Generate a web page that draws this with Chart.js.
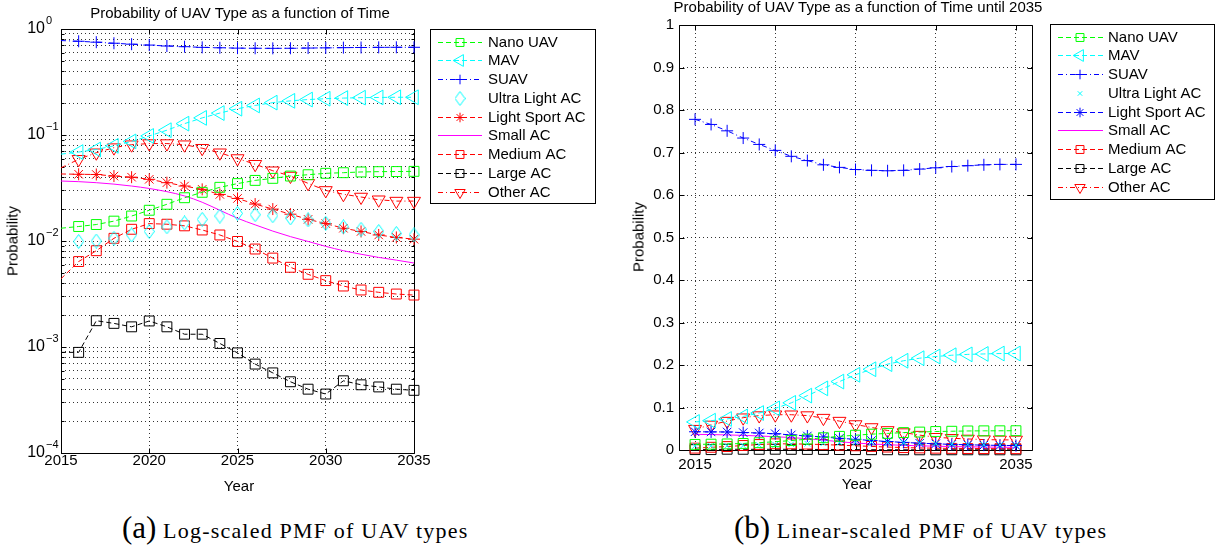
<!DOCTYPE html>
<html>
<head>
<meta charset="utf-8">
<title>Probability of UAV Type</title>
<script src="https://cdn.jsdelivr.net/npm/chart.js@4.4.1/dist/chart.umd.min.js"></script>
<style>
  html, body { margin: 0; padding: 0; background: #fff; }
  body { position: relative; width: 1215px; height: 548px; overflow: hidden;
         font-family: "Liberation Sans", Arial, Helvetica, sans-serif; color: #000; }
  canvas { position: absolute; top: 0; }
  .txt { position: absolute; font-size: 15px; line-height: 15px; white-space: nowrap;
         transform: translate(-50%, -50%); }
  .ylab { transform: translate(-50%, -50%) rotate(-90deg); }
  .cap { position: absolute; font-family: "Liberation Serif", "Times New Roman", serif;
         font-size: 22px; letter-spacing: 1.2px; line-height: 30px; white-space: nowrap; }
  .cap span { font-size: 31px; letter-spacing: 0; }
</style>
</head>
<body>
<canvas id="logChart" width="600" height="500" style="left:0"></canvas>
<canvas id="linChart" width="615" height="500" style="left:600px"></canvas>

<div class="txt" style="left:240px; top:12px">Probability of UAV Type as a function of Time</div>
<div class="txt ylab" style="left:12px; top:241px">Probability</div>
<div class="txt" style="left:239px; top:485px">Year</div>

<div class="txt" style="left:858px; top:6px">Probability of UAV Type as a function of Time until 2035</div>
<div class="txt ylab" style="left:638px; top:237px">Probability</div>
<div class="txt" style="left:857px; top:483px">Year</div>

<div class="cap" style="left:122px; top:513px"><span>(a)</span> Log-scaled PMF of UAV types</div>
<div class="cap" style="left:734px; top:513px"><span>(b)</span> Linear-scaled PMF of UAV types</div>

<script>
// values, one per year
var years = [2015, 2016, 2017, 2018, 2019, 2020, 2021, 2022, 2023, 2024, 2025,
             2026, 2027, 2028, 2029, 2030, 2031, 2032, 2033, 2034, 2035];

var nanoUAV = [0.0132, 0.0137, 0.0143, 0.0154, 0.0172, 0.0195, 0.0222, 0.0256, 0.0288, 0.0321, 0.0348,
               0.0373, 0.0390, 0.0410, 0.0422, 0.0435, 0.0441, 0.0448, 0.0451, 0.0452, 0.0454];
var mav = [0.066, 0.069, 0.073, 0.079, 0.087, 0.098, 0.111, 0.128, 0.145, 0.161, 0.177,
           0.190, 0.202, 0.210, 0.216, 0.220, 0.223, 0.225, 0.226, 0.227, 0.227];
var suav = [0.778, 0.766, 0.751, 0.734, 0.719, 0.705, 0.691, 0.681, 0.671, 0.665, 0.660,
            0.658, 0.657, 0.658, 0.661, 0.664, 0.667, 0.669, 0.671, 0.672, 0.672];
var ultraLightAC = [0.0098, 0.0099, 0.0100, 0.0106, 0.0114, 0.0123, 0.0136, 0.0148, 0.0160, 0.0172, 0.0182,
                    0.0177, 0.0173, 0.0165, 0.0158, 0.0147, 0.0136, 0.0129, 0.0123, 0.0118, 0.0114];
var lightSportAC = [0.0429, 0.0426, 0.0424, 0.0410, 0.0400, 0.0382, 0.0355, 0.0330, 0.0307, 0.0275, 0.0252,
                    0.0223, 0.0200, 0.0179, 0.0160, 0.0146, 0.0132, 0.0123, 0.0114, 0.0108, 0.0104];
var smallAC = [0.0368, 0.0363, 0.0355, 0.0344, 0.0330, 0.0313, 0.0292, 0.0266, 0.0232, 0.0195, 0.0164,
               0.0142, 0.0124, 0.0110, 0.0099, 0.0089, 0.0081, 0.0075, 0.0070, 0.0066, 0.0062];
var mediumAC = [0.0044, 0.0064, 0.0081, 0.0106, 0.0129, 0.0146, 0.0144, 0.0139, 0.0127, 0.0114, 0.0099,
                0.0084, 0.0069, 0.00565, 0.00485, 0.00423, 0.00376, 0.00345, 0.00328, 0.00316, 0.00309];
var largeAC = [0.00089, 0.00089, 0.00177, 0.00167, 0.00155, 0.00176, 0.00155, 0.00132, 0.00132, 0.00108, 0.00088,
               0.00069, 0.00057, 0.00047, 0.00040, 0.00036, 0.00048, 0.00044, 0.00042, 0.00040, 0.00039];
var otherAC = [0.049, 0.059, 0.068, 0.076, 0.081, 0.083, 0.083, 0.081, 0.075, 0.068, 0.060,
               0.053, 0.046, 0.041, 0.035, 0.030, 0.0276, 0.026, 0.0245, 0.0238, 0.0238];

var seriesNames = ["Nano UAV", "MAV", "SUAV", "Ultra Light AC", "Light Sport AC",
                   "Small AC", "Medium AC", "Large AC", "Other AC"];
var seriesValues = [nanoUAV, mav, suav, ultraLightAC, lightSportAC, smallAC, mediumAC, largeAC, otherAC];

var yearTicks = [2015, 2020, 2025, 2030, 2035];
var logTicks = [1e-4, 1e-3, 1e-2, 1e-1, 1];
var logTickBase = "10";
var logTickExponents = ["\u22124", "\u22123", "\u22122", "\u22121", "0"];
var linTicks = [0, 0.1, 0.2, 0.3, 0.4, 0.5, 0.6, 0.7, 0.8, 0.9, 1];
var linTickLabels = ["0", "0.1", "0.2", "0.3", "0.4", "0.5", "0.6", "0.7", "0.8", "0.9", "1"];

Chart.defaults.font.family = '"Liberation Sans", Arial, Helvetica, sans-serif';
Chart.defaults.font.size = 15;
Chart.defaults.color = "#000";

var gridColor = "rgba(0,0,0,0.8)";
var dashed = [5, 3];
var dashDot = [5, 3, 1, 3];

// matlab style diamond (taller than wide)
function makeDiamond(w, h, color) {
    var c = document.createElement("canvas");
    c.width = w;
    c.height = h;
    var g = c.getContext("2d");
    g.strokeStyle = color;
    g.lineWidth = 1;
    g.beginPath();
    g.moveTo(w / 2, 0.5);
    g.lineTo(w - 0.5, h / 2);
    g.lineTo(w / 2, h - 0.5);
    g.lineTo(0.5, h / 2);
    g.closePath();
    g.stroke();
    return c;
}

function seriesStyles(isLog) {
    return [
        { color: "#00ff00", dash: dashed, marker: "rect", r: 7 },
        { color: "#00ffff", dash: dashed, marker: "triangle", rot: -90, r: 8.5 },
        { color: "#0000ff", dash: dashDot, marker: "cross", r: 6 },
        { color: "#00ffff", dash: null, marker: isLog ? makeDiamond(11, 15, "#00ffff") : "crossRot", r: isLog ? 7 : 4 },
        { color: isLog ? "#ff0000" : "#0000ff", dash: dashed, marker: "star", r: 6 },
        { color: "#ff00ff", dash: [], marker: null, smooth: true },
        { color: "#ff0000", dash: dashed, marker: "rect", r: 7 },
        { color: "#000000", dash: dashed, marker: "rect", r: 7 },
        { color: "#ff0000", dash: dashDot, marker: "triangle", rot: 180, r: 7.5 }
    ];
}

function toPoints(values) {
    return years.map(function (yr, i) {
        return { x: yr, y: values[i] };
    });
}

function buildDatasets(styles, hideFirstMarker) {
    return seriesNames.map(function (name, k) {
        var st = styles[k];
        var radius = st.marker ? st.r : 0;
        return {
            label: name,
            data: toPoints(seriesValues[k]),
            borderColor: st.color,
            backgroundColor: "rgba(0,0,0,0)",
            borderWidth: 1,
            borderDash: st.dash || [],
            showLine: st.dash !== null,
            pointStyle: st.marker || "circle",
            pointRotation: st.rot || 0,
            pointRadius: hideFirstMarker
                ? years.map(function (yr, i) { return i === 0 ? 0 : radius; })
                : radius,
            pointBorderColor: st.color,
            pointBackgroundColor: "rgba(0,0,0,0)",
            pointBorderWidth: 1,
            tension: 0,
            cubicInterpolationMode: st.smooth ? "monotone" : "default",
            fill: false,
            clip: false
        };
    });
}

function decadeIndex(v) {
    for (var i = 0; i < logTicks.length; i++) {
        if (Math.abs(v / logTicks[i] - 1) < 1e-6) return i;
    }
    return -1;
}

// box round the plot plus matlab-like inward tick marks
var framePlugin = {
    id: "frame",
    beforeDatasetsDraw: function (chart) {
        var ctx = chart.ctx;
        var a = chart.chartArea;
        var xs = chart.scales.x;
        var ys = chart.scales.y;
        var L = Math.round(a.left) + 0.5, R = Math.round(a.right) + 0.5;
        var T = Math.round(a.top) + 0.5, B = Math.round(a.bottom) + 0.5;
        ctx.save();
        ctx.strokeStyle = "#000";
        ctx.lineWidth = 1;
        ctx.setLineDash([]);
        ctx.beginPath();
        ctx.rect(L, T, R - L, B - T);
        ys.ticks.forEach(function (t) {
            var p = Math.round(ys.getPixelForValue(t.value)) + 0.5;
            var len = t.label ? 5 : 3;
            ctx.moveTo(L, p); ctx.lineTo(L + len, p);
            ctx.moveTo(R, p); ctx.lineTo(R - len, p);
        });
        xs.ticks.forEach(function (t) {
            var p = Math.round(xs.getPixelForValue(t.value)) + 0.5;
            ctx.moveTo(p, B); ctx.lineTo(p, B - 5);
            ctx.moveTo(p, T); ctx.lineTo(p, T + 5);
        });
        ctx.stroke();
        ctx.restore();
    }
};

// exponents for the 10^n labels of the log axis
var exponentPlugin = {
    id: "exponents",
    afterDraw: function (chart) {
        var ctx = chart.ctx;
        var ys = chart.scales.y;
        ctx.save();
        ctx.font = '11px "Liberation Sans", Arial, sans-serif';
        ctx.fillStyle = "#000";
        ctx.textAlign = "left";
        ctx.textBaseline = "middle";
        ys.ticks.forEach(function (t) {
            var i = decadeIndex(t.value);
            if (i < 0) return;
            var p = ys.getPixelForValue(t.value);
            ctx.fillText(logTickExponents[i], ys.right - 15, p - 8);
        });
        ctx.restore();
    }
};

function legendPlugin(lg, styles) {
    return {
        id: "uavLegend",
        afterDraw: function (chart) {
            var ctx = chart.ctx;
            ctx.save();
            ctx.fillStyle = "#fff";
            ctx.fillRect(lg.x1, lg.y1, lg.x2 - lg.x1, lg.y2 - lg.y1);
            ctx.strokeStyle = "#000";
            ctx.lineWidth = 1;
            ctx.setLineDash([]);
            ctx.strokeRect(lg.x1 + 0.5, lg.y1 + 0.5, lg.x2 - lg.x1, lg.y2 - lg.y1);
            ctx.font = '15px "Liberation Sans", Arial, sans-serif';
            ctx.textBaseline = "middle";
            ctx.textAlign = "left";
            seriesNames.forEach(function (name, k) {
                var st = styles[k];
                var y = Math.round(lg.rowTop + k * lg.rowStep) + 0.5;
                ctx.strokeStyle = st.color;
                ctx.fillStyle = "rgba(0,0,0,0)";
                ctx.lineWidth = 1;
                if (st.dash !== null) {
                    ctx.setLineDash(st.dash);
                    ctx.beginPath();
                    ctx.moveTo(lg.lineX1, y);
                    ctx.lineTo(lg.lineX2, y);
                    ctx.stroke();
                    ctx.setLineDash([]);
                }
                if (st.marker) {
                    Chart.helpers.drawPoint(ctx, {
                        pointStyle: st.marker,
                        rotation: st.rot || 0,
                        radius: st.r * 0.8,
                        borderWidth: 1
                    }, lg.markX, y);
                }
                ctx.fillStyle = "#000";
                ctx.fillText(name, lg.textX, y + 0.5);
            });
            ctx.restore();
        }
    };
}

function gridOpts() {
    return { color: gridColor, lineWidth: 1, drawTicks: false };
}

// ---- (a) log scaled ----
var logStyles = seriesStyles(true);
var logGrid = [];
logTicks.forEach(function (d) {
    [1, 2, 3, 4, 5, 6, 7, 8, 9].forEach(function (m) {
        if (d * m <= 1.0000001) logGrid.push(d * m);
    });
});

new Chart(document.getElementById("logChart"), {
    type: "line",
    data: { datasets: buildDatasets(logStyles, true) },
    options: {
        responsive: false,
        animation: false,
        events: [],
        layout: { padding: { left: 0, right: 186, top: 29, bottom: 0 } },
        plugins: { legend: { display: false }, tooltip: { enabled: false } },
        scales: {
            x: {
                type: "linear",
                min: 2015,
                max: 2035,
                afterBuildTicks: function (s) {
                    s.ticks = yearTicks.map(function (v) { return { value: v }; });
                },
                afterFit: function (s) { s.height = 47; },
                ticks: {
                    autoSkip: false,
                    maxRotation: 0,
                    padding: 0,
                    font: { size: 15, lineHeight: 1 },
                    callback: function (v) { return String(v); }
                },
                grid: gridOpts(),
                border: { display: false, dash: [1, 3] }
            },
            y: {
                type: "logarithmic",
                min: 1e-4,
                max: 1,
                afterBuildTicks: function (s) {
                    s.ticks = logGrid.map(function (v) { return { value: v }; });
                },
                afterFit: function (s) { s.width = 61; },
                ticks: {
                    autoSkip: false,
                    padding: 16,
                    font: { size: 16 },
                    callback: function (v) {
                        return decadeIndex(v) >= 0 ? logTickBase : "";
                    }
                },
                grid: gridOpts(),
                border: { display: false, dash: [1, 3] }
            }
        }
    },
    plugins: [framePlugin, exponentPlugin, legendPlugin({
        x1: 430, y1: 29, x2: 595, y2: 203,
        rowTop: 41.7, rowStep: 18.75,
        lineX1: 438, lineX2: 482, markX: 460, textX: 488
    }, logStyles)]
});

// ---- (b) linear scaled ----
var linStyles = seriesStyles(false);

new Chart(document.getElementById("linChart"), {
    type: "line",
    data: { datasets: buildDatasets(linStyles, false) },
    options: {
        responsive: false,
        animation: false,
        events: [],
        layout: { padding: { left: 0, right: 183, top: 25, bottom: 0 } },
        plugins: { legend: { display: false }, tooltip: { enabled: false } },
        scales: {
            x: {
                type: "linear",
                min: 2014,
                max: 2036,
                afterBuildTicks: function (s) {
                    s.ticks = yearTicks.map(function (v) { return { value: v }; });
                },
                afterFit: function (s) { s.height = 50; },
                ticks: {
                    autoSkip: false,
                    maxRotation: 0,
                    padding: 7,
                    font: { size: 15, lineHeight: 1 },
                    callback: function (v) { return String(v); }
                },
                grid: gridOpts(),
                border: { display: false, dash: [1, 3] }
            },
            y: {
                type: "linear",
                min: 0,
                max: 1,
                afterBuildTicks: function (s) {
                    s.ticks = linTicks.map(function (v) { return { value: v }; });
                },
                afterFit: function (s) { s.width = 79; },
                ticks: {
                    autoSkip: false,
                    padding: 5,
                    callback: function (v, i) { return linTickLabels[i]; }
                },
                grid: gridOpts(),
                border: { display: false, dash: [1, 3] }
            }
        }
    },
    plugins: [framePlugin, legendPlugin({
        x1: 450, y1: 24, x2: 614, y2: 199,
        rowTop: 36.7, rowStep: 18.75,
        lineX1: 458, lineX2: 503, markX: 480, textX: 508
    }, linStyles)]
});
</script>
</body>
</html>
